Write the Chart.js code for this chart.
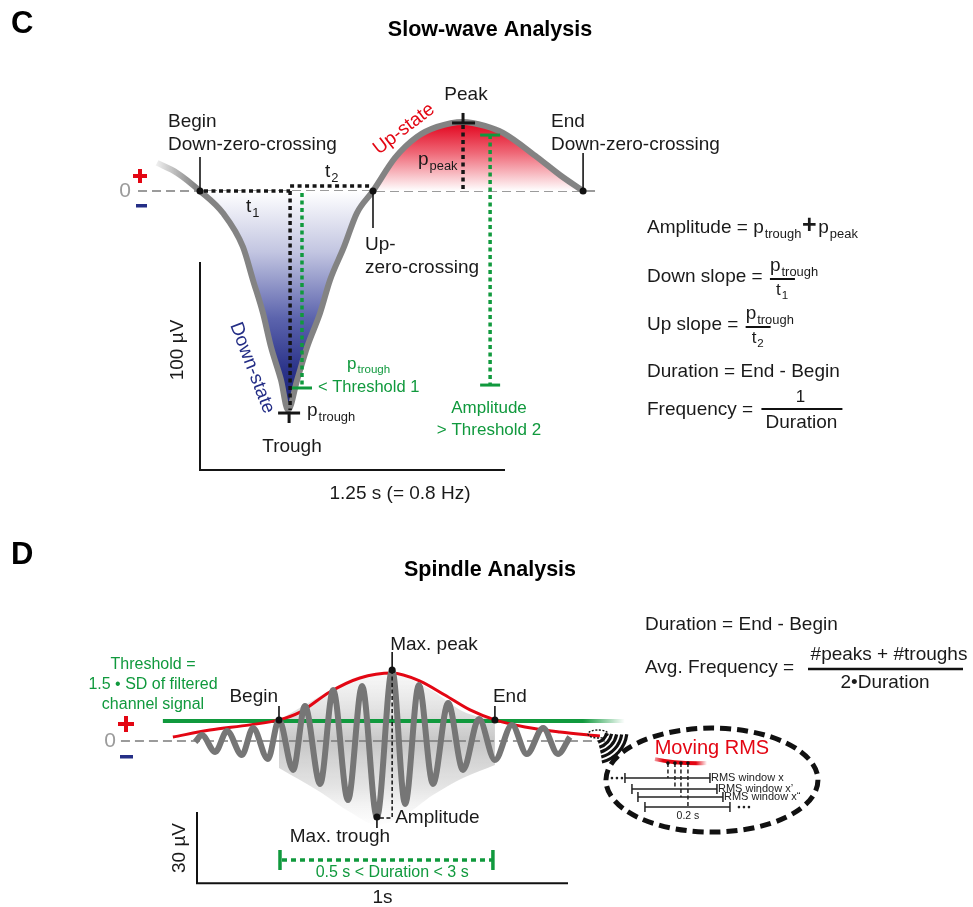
<!DOCTYPE html>
<html>
<head>
<meta charset="utf-8">
<script src="https://cdn.jsdelivr.net/npm/chart.js@4.4.0/dist/chart.umd.min.js"></script>
<style>
  body { margin: 0; background: #fff; }
  canvas { display: block; }
</style>
</head>
<body>
<canvas id="slowWave" width="973" height="520"></canvas>
<canvas id="spindle" width="973" height="387"></canvas>
<script>
// ---- slow wave (time in s from Begin, voltage in µV) ----
const swTime = [-0.176, -0.094, 0, 0.094, 0.176, 0.217, 0.258, 0.291, 0.332, 0.361, 0.398, 0.439, 0.492,
  0.533, 0.590, 0.643, 0.709, 0.799, 0.889, 0.971, 1.078, 1.168, 1.242, 1.381, 1.475, 1.570];
const swVolt = [13.5, 8.7, 0, -10.6, -26.9, -42.8, -58.7, -75.0, -90.9, -105.3, -90.9, -75.0, -58.7,
  -42.8, -26.9, -10.6, 0, 15.9, 26.0, 30.8, 33.2, 31.3, 27.9, 16.3, 7.7, 0];
// indices of the marked events in the slow wave
const swBegin = 2, swTrough = 9, swUp = 16, swPeak = 20, swEnd = 25;
const swThreshold1 = -94.7;            // p_trough criterion
const swAmplitude = [26.9, -93.3];     // amplitude criterion bar (top, bottom)

// ---- spindle (time in s from scale-bar origin, µV) ----
const spTime = [-0.005, 0.013, 0.049, 0.081, 0.121, 0.151, 0.191, 0.221, 0.259, 0.291, 0.332, 0.367, 0.407, 0.445,
  0.485, 0.526, 0.561, 0.598, 0.636, 0.677, 0.717, 0.760, 0.803, 0.849, 0.889, 0.933, 0.973, 1.005];
const spVolt = [-0.4, 2.5, -4.6, 4.2, -5.9, 5.5, -7.6, 8.9, -12.2, 14.8, -18.1, 21.5, -24.9, 23.2,
  -32.1, 30.0, -26.6, 23.6, -18.1, 16.0, -12.2, 9.3, -8.0, 6.8, -5.5, 5.5, -5.5, 1.7];
const spMaxTrough = 14, spMaxPeak = 15;
// RMS envelope
const envTime = [-0.065, 0.035, 0.143, 0.221, 0.278, 0.358, 0.439, 0.526, 0.601, 0.668, 0.736, 0.803, 0.884, 0.978, 1.086];
const envVolt = [1.7, 4.6, 6.8, 8.9, 12.2, 20.7, 26.6, 28.7, 25.3, 19.4, 13.1, 8.9, 5.9, 3.8, 2.1];
const envBegin = 3, envEnd = 11;
const spThreshold = 8.4;
const thrTime = [-0.092, 1.153];
// shaded spindle body between Begin and End
const shadeTime = [0.221, 0.332, 0.412, 0.485, 0.561, 0.636, 0.717, 0.803];
const shadeTop = [8.9, 19.0, 26.0, 28.7, 27.0, 21.0, 12.5, 8.9];
const shadeLow = [-11.4, -21.5, -30.0, -35.4, -31.2, -22.8, -15.6, -10.1];

const FONT = '"Liberation Sans", Arial, Helvetica, sans-serif';
const GREEN = '#10993d', RED = '#e30613', NAVY = '#242e86';

function pts(xs, ys) { return xs.map((x, i) => ({ x: x, y: ys[i] })); }
function txt(ctx, s, x, y, size, color, align, weight) {
  ctx.font = (weight || '') + ' ' + size + 'px ' + FONT;
  ctx.fillStyle = color;
  ctx.textAlign = align || 'left';
  ctx.textBaseline = 'middle';
  ctx.fillText(s, x, y);
  return ctx.measureText(s).width;
}
function subTxt(ctx, base, sub, x, y, size, color, align) {
  ctx.font = size + 'px ' + FONT;
  const w1 = ctx.measureText(base).width;
  ctx.font = (size * 0.68) + 'px ' + FONT;
  const w2 = ctx.measureText(sub).width;
  const x0 = align === 'center' ? x - (w1 + w2) / 2 : x;
  txt(ctx, base, x0, y, size, color);
  txt(ctx, sub, x0 + w1 + 1, y + size * 0.32, size * 0.68, color);
  return w1 + w2 + 1;
}
function seg(ctx, x1, y1, x2, y2) { ctx.beginPath(); ctx.moveTo(x1, y1); ctx.lineTo(x2, y2); ctx.stroke(); }
function dot(ctx, x, y, r, c) { ctx.beginPath(); ctx.arc(x, y, r, 0, Math.PI * 2); ctx.fillStyle = c; ctx.fill(); }
function plus(ctx, x, y, s, c) { ctx.fillStyle = c; ctx.fillRect(x - s / 2, y - 2, s, 4); ctx.fillRect(x - 2, y - s / 2, 4, s); }

function baseOptions(xmin, xmax, ymin, ymax) {
  return {
    responsive: false, animation: false, devicePixelRatio: 1, events: [],
    layout: { padding: 0 },
    plugins: { legend: { display: false }, tooltip: { enabled: false } },
    elements: { point: { radius: 0 }, line: { cubicInterpolationMode: 'monotone' } },
    scales: {
      x: { type: 'linear', min: xmin, max: xmax, display: false },
      y: { type: 'linear', min: ymin, max: ymax, display: false }
    }
  };
}

// ================= Slow-wave panel =================
const swDecor = {
  id: 'swDecor',
  beforeDatasetsDraw(chart) {
    const { ctx, scales: { x, y } } = chart;
    ctx.save();
    ctx.strokeStyle = '#9b9b9b'; ctx.lineWidth = 2; ctx.setLineDash([9, 5]);
    seg(ctx, x.getPixelForValue(-0.254), y.getPixelForValue(0), x.getPixelForValue(1.627), y.getPixelForValue(0));
    ctx.restore();
  },
  afterDatasetsDraw(chart) {
    const { ctx, scales: { x, y } } = chart;
    const X = v => x.getPixelForValue(v), Y = v => y.getPixelForValue(v);
    const y0 = Y(0);
    const bx = X(swTime[swBegin]), ux = X(swTime[swUp]), ex = X(swTime[swEnd]);
    const tx = X(swTime[swTrough]), ty = Y(swVolt[swTrough]);
    const px = X(swTime[swPeak]), py = Y(swVolt[swPeak]);
    ctx.save();
    // t1 / t2 / p_peak dotted lines
    ctx.strokeStyle = '#151515'; ctx.lineWidth = 3.5; ctx.setLineDash([4, 3.5]);
    seg(ctx, bx + 4, y0, tx + 2, y0);
    seg(ctx, tx + 2, y0, tx + 2, ty);
    seg(ctx, tx + 2, y0 - 5, ux - 3, y0 - 5);
    seg(ctx, px, py + 3, px, y0);
    // criteria (green)
    ctx.strokeStyle = GREEN;
    const g1 = X(0.418), g2 = X(1.189);
    seg(ctx, g1, y0 + 2, g1, Y(swThreshold1));
    seg(ctx, g2, Y(swAmplitude[0]), g2, Y(swAmplitude[1]));
    ctx.setLineDash([]); ctx.lineWidth = 3;
    seg(ctx, g1 - 10, Y(swThreshold1), g1 + 10, Y(swThreshold1));
    seg(ctx, g2 - 10, Y(swAmplitude[0]), g2 + 10, Y(swAmplitude[0]));
    seg(ctx, g2 - 10, Y(swAmplitude[1]), g2 + 10, Y(swAmplitude[1]));
    // peak / trough ticks
    ctx.strokeStyle = '#151515';
    seg(ctx, px - 11, py + 1, px + 12, py + 1); seg(ctx, px, py - 9, px, py + 1);
    seg(ctx, tx - 10, ty + 3, tx + 12, ty + 3); seg(ctx, tx + 1, ty + 3, tx + 1, ty + 13);
    // leaders
    ctx.lineWidth = 1.6;
    seg(ctx, bx, y0, bx, y0 - 34);
    seg(ctx, ux, y0, ux, y0 + 37);
    seg(ctx, ex, y0, ex, y0 - 38);
    dot(ctx, bx, y0, 3.5, '#111'); dot(ctx, ux, y0, 3.5, '#111'); dot(ctx, ex, y0, 3.5, '#111');
    // scale bars: 100 µV and 1.25 s
    ctx.lineWidth = 2;
    seg(ctx, X(0), Y(-34.1), X(0), Y(-134.1));
    seg(ctx, X(0) - 1, Y(-134.1), X(1.25), Y(-134.1));

    // sign markers
    txt(ctx, '0', 125, y0, 21, '#9b9b9b', 'center');
    plus(ctx, 140, y0 - 15, 14, RED);
    ctx.fillStyle = NAVY; ctx.fillRect(136, y0 + 13, 11, 3.5);

    const K = '#1a1a1a';
    txt(ctx, 'C', 11, 24, 31, '#000', 'left', 'bold');
    txt(ctx, 'Slow-wave Analysis', 490, 30, 21.5, '#000', 'center', 'bold');
    txt(ctx, 'Begin', 168, 122, 19, K);
    txt(ctx, 'Down-zero-crossing', 168, 145, 19, K);
    txt(ctx, 'Peak', 466, 95, 19, K, 'center');
    txt(ctx, 'End', 551, 122, 19, K);
    txt(ctx, 'Down-zero-crossing', 551, 145, 19, K);
    subTxt(ctx, 't', '2', 325, 172, 19, K);
    subTxt(ctx, 't', '1', 246, 207, 19, K);
    subTxt(ctx, 'p', 'peak', 418, 160, 19, K);
    txt(ctx, 'Up-', 365, 245, 19, K);
    txt(ctx, 'zero-crossing', 365, 268, 19, K);
    subTxt(ctx, 'p', 'trough', 347, 364, 17, GREEN);
    txt(ctx, '< Threshold 1', 318, 387, 16.5, GREEN);
    subTxt(ctx, 'p', 'trough', 307, 411, 19, K);
    txt(ctx, 'Trough', 292, 447, 19, K, 'center');
    txt(ctx, 'Amplitude', 489, 408, 17, GREEN, 'center');
    txt(ctx, '> Threshold 2', 489, 430, 17, GREEN, 'center');
    txt(ctx, '1.25 s (= 0.8 Hz)', 400, 494, 19, K, 'center');

    ctx.save(); ctx.translate(178, 350); ctx.rotate(-Math.PI / 2);
    txt(ctx, '100 µV', 0, 0, 19, K, 'center'); ctx.restore();
    ctx.save(); ctx.translate(404, 129); ctx.rotate(-37.5 * Math.PI / 180);
    txt(ctx, 'Up-state', 0, 0, 19, RED, 'center'); ctx.restore();
    ctx.save(); ctx.translate(252, 368); ctx.rotate(69 * Math.PI / 180);
    txt(ctx, 'Down-state', 0, 0, 19, NAVY, 'center'); ctx.restore();

    // formulas
    const fx = 647;
    ctx.strokeStyle = '#111';
    let w = txt(ctx, 'Amplitude = ', fx, 228, 19, K);
    w += subTxt(ctx, 'p', 'trough', fx + w, 228, 19, K);
    txt(ctx, '+', fx + w + 8, 226, 25, K, 'center', 'bold');
    subTxt(ctx, 'p', 'peak', fx + w + 17, 228, 19, K);

    w = txt(ctx, 'Down slope = ', fx, 277, 19, K);
    subTxt(ctx, 'p', 'trough', fx + w + 2, 266, 19, K);
    ctx.lineWidth = 2; seg(ctx, fx + w + 2, 279, fx + w + 27, 279);
    subTxt(ctx, 't', '1', fx + w + 8, 290, 17, K);

    w = txt(ctx, 'Up slope = ', fx, 325, 19, K);
    subTxt(ctx, 'p', 'trough', fx + w + 2, 314, 19, K);
    seg(ctx, fx + w + 2, 327, fx + w + 27, 327);
    subTxt(ctx, 't', '2', fx + w + 8, 338, 17, K);

    txt(ctx, 'Duration = End - Begin', fx, 372, 19, K);
    w = txt(ctx, 'Frequency = ', fx, 410, 19, K);
    txt(ctx, '1', fx + w + 42, 397, 17, K, 'center');
    seg(ctx, fx + w + 3, 409, fx + w + 84, 409);
    txt(ctx, 'Duration', fx + w + 43, 423, 19, K, 'center');
    ctx.restore();
  }
};

const swCanvas = document.getElementById('slowWave');
new Chart(swCanvas, {
  type: 'line',
  data: {
    datasets: [
      {
        data: pts(swTime, swVolt), borderWidth: 6, fill: false, order: 1,
        borderColor: ctx => {
          const c = ctx.chart, sx = c.scales.x;
          if (!c.chartArea) return '#838383';
          const g = c.ctx.createLinearGradient(sx.getPixelForValue(-0.18), 0, sx.getPixelForValue(-0.02), 0);
          g.addColorStop(0, 'rgba(131,131,131,0.12)'); g.addColorStop(1, '#838383');
          return g;
        }
      },
      {
        data: pts(swTime.slice(swBegin, swUp + 1), swVolt.slice(swBegin, swUp + 1)),
        borderWidth: 0, fill: 'origin', order: 2,
        backgroundColor: ctx => {
          const c = ctx.chart, sy = c.scales.y;
          if (!c.chartArea) return '#445';
          const g = c.ctx.createLinearGradient(0, sy.getPixelForValue(0), 0, sy.getPixelForValue(swVolt[swTrough]));
          g.addColorStop(0, '#ffffff'); g.addColorStop(0.28, '#c2c5e1');
          g.addColorStop(0.58, '#5c64ad'); g.addColorStop(0.82, '#2b3389'); g.addColorStop(1, '#1a2276');
          return g;
        }
      },
      {
        data: pts(swTime.slice(swUp, swEnd + 1), swVolt.slice(swUp, swEnd + 1)),
        borderWidth: 0, fill: 'origin', order: 3,
        backgroundColor: ctx => {
          const c = ctx.chart, sy = c.scales.y;
          if (!c.chartArea) return '#e66';
          const g = c.ctx.createLinearGradient(0, sy.getPixelForValue(swVolt[swPeak]), 0, sy.getPixelForValue(0));
          g.addColorStop(0, '#e2001a'); g.addColorStop(0.45, '#ef6877'); g.addColorStop(1, '#ffffff');
          return g;
        }
      }
    ]
  },
  options: baseOptions(-200 / 244, 773 / 244, -329 / 2.08, 191 / 2.08),
  plugins: [swDecor]
});

// ================= Spindle panel =================
const spDecor = {
  id: 'spDecor',
  beforeDatasetsDraw(chart) {
    const { ctx, scales: { x, y } } = chart;
    ctx.save();
    ctx.strokeStyle = '#9b9b9b'; ctx.lineWidth = 2; ctx.setLineDash([9, 5]);
    seg(ctx, x.getPixelForValue(-0.205), y.getPixelForValue(0), x.getPixelForValue(1.1), y.getPixelForValue(0));
    ctx.restore();
  },
  afterDatasetsDraw(chart) {
    const { ctx, scales: { x, y } } = chart;
    const X = v => x.getPixelForValue(v), Y = v => y.getPixelForValue(v);
    const K = '#1a1a1a';
    const y0 = Y(0);
    ctx.save();
    // Begin / End
    const bx = X(envTime[envBegin]), by = Y(envVolt[envBegin]);
    const ex = X(envTime[envEnd]), ey = Y(envVolt[envEnd]);
    ctx.strokeStyle = '#111'; ctx.lineWidth = 1.6;
    seg(ctx, bx, by, bx, by - 14); seg(ctx, ex, ey, ex, ey - 14);
    dot(ctx, bx, by, 3.5, '#111'); dot(ctx, ex, ey, 3.5, '#111');
    txt(ctx, 'Begin', bx - 1, 177, 19, K, 'right');
    txt(ctx, 'End', ex - 2, 177, 19, K);
    // max peak / trough / amplitude
    const mpx = X(spTime[spMaxPeak]), mpy = Y(spVolt[spMaxPeak]);
    const mtx = X(spTime[spMaxTrough]), mty = Y(spVolt[spMaxTrough]);
    seg(ctx, mpx, mpy, mpx, mpy - 18);
    seg(ctx, mtx, mty, mtx, mty + 11);
    ctx.lineWidth = 1.5; ctx.setLineDash([4, 2.5]);
    seg(ctx, mpx, mpy, mpx, mty + 1);
    seg(ctx, mtx + 3, mty + 1, mpx, mty + 1);
    ctx.setLineDash([]);
    dot(ctx, mpx, mpy, 3.5, '#111'); dot(ctx, mtx, mty, 3.5, '#111');
    txt(ctx, 'Max. peak', mpx - 2, 125, 19, K);
    txt(ctx, 'Amplitude', mpx + 3, 298, 19, K);
    txt(ctx, 'Max. trough', mtx - 37, 317, 19, K, 'center');

    // scale bars 30 µV / 1 s
    ctx.strokeStyle = '#111'; ctx.lineWidth = 2;
    seg(ctx, X(0), Y(-30), X(0), Y(-60));
    seg(ctx, X(0) - 1, Y(-60), X(1), Y(-60));
    ctx.save(); ctx.translate(180, 328); ctx.rotate(-Math.PI / 2);
    txt(ctx, '30 µV', 0, 0, 19, K, 'center'); ctx.restore();
    txt(ctx, '1s', X(0.5), 378, 19, K, 'center');

    // duration criterion
    const dy = Y(-50.2);
    ctx.strokeStyle = GREEN; ctx.lineWidth = 3.5; ctx.setLineDash([5, 4]);
    seg(ctx, bx + 3, dy, ex - 3, dy);
    ctx.setLineDash([]);
    seg(ctx, bx + 1, dy - 10, bx + 1, dy + 10); seg(ctx, ex - 2, dy - 10, ex - 2, dy + 10);
    txt(ctx, '0.5 s < Duration < 3 s', X(0.526), 353, 16, GREEN, 'center');

    // sign markers and threshold text
    txt(ctx, '0', 110, y0, 21, '#9b9b9b', 'center');
    plus(ctx, 126, y0 - 17, 16, RED);
    ctx.fillStyle = NAVY; ctx.fillRect(120, y0 + 14, 13, 3.5);
    txt(ctx, 'Threshold =', 153, 145, 16, GREEN, 'center');
    txt(ctx, '1.5 \u2022 SD of filtered', 153, 165, 16, GREEN, 'center');
    txt(ctx, 'channel signal', 153, 185, 16, GREEN, 'center');

    txt(ctx, 'D', 11, 35, 31, '#000', 'left', 'bold');
    txt(ctx, 'Spindle Analysis', 490, 50, 21.5, '#000', 'center', 'bold');

    // formulas
    const fx = 645;
    txt(ctx, 'Duration = End - Begin', fx, 105, 19, K);
    txt(ctx, 'Avg. Frequency = ', fx, 148, 19, K);
    txt(ctx, '#peaks + #troughs', 889, 135, 19, K, 'center');
    ctx.strokeStyle = '#111'; ctx.lineWidth = 2.5; seg(ctx, 808, 149, 963, 149);
    txt(ctx, '2\u2022Duration', 885, 163, 19, K, 'center');

    // zoomed RMS inset
    const sx0 = X(1.081), sy0 = Y(2.95);
    ctx.lineWidth = 1.4; ctx.setLineDash([2, 1.5]); ctx.strokeStyle = '#111';
    ctx.beginPath(); ctx.ellipse(sx0, sy0, 10, 4, 0, 0, Math.PI * 2); ctx.stroke();
    ctx.setLineDash([]); ctx.lineWidth = 3.2;
    [13, 18, 23, 28, 33].forEach((r, i) => {
      ctx.beginPath(); ctx.arc(sx0 - 4, sy0 - 4, r, 0.25 - i * 0.03, 1.25 + i * 0.02); ctx.stroke();
    });
    const cx = X(1.388), cy = Y(-16.5);
    ctx.lineWidth = 5; ctx.setLineDash([11, 6]);
    ctx.beginPath(); ctx.ellipse(cx, cy, 106, 52, 0, 0, Math.PI * 2); ctx.stroke();
    ctx.setLineDash([]);
    txt(ctx, 'Moving RMS', cx, cy - 32, 20, RED, 'center');
    const rg = ctx.createLinearGradient(cx - 60, 0, cx - 5, 0);
    rg.addColorStop(0, 'rgba(227,6,19,0.2)'); rg.addColorStop(0.2, RED); rg.addColorStop(0.8, RED); rg.addColorStop(1, 'rgba(227,6,19,0)');
    ctx.strokeStyle = rg; ctx.lineWidth = 4;
    ctx.beginPath(); ctx.moveTo(cx - 57, cy - 21); ctx.quadraticCurveTo(cx - 35, cy - 16, cx - 5, cy - 17); ctx.stroke();
    ctx.strokeStyle = '#222'; ctx.lineWidth = 1.5;
    const wins = [[-87, -2, -2, 'RMS window x'], [-80, 5, 9, 'RMS window x\u2019'],
      [-74, 11, 17, 'RMS window x\u201C'], [-67, 18, 27, '']];
    const taps = [-44, -37, -31, -24];
    wins.forEach((wn, i) => {
      const [a, b, yy, lab] = wn;
      ctx.setLineDash([]);
      seg(ctx, cx + a, cy + yy, cx + b, cy + yy);
      seg(ctx, cx + a, cy + yy - 5, cx + a, cy + yy + 5);
      seg(ctx, cx + b, cy + yy - 5, cx + b, cy + yy + 5);
      if (lab) txt(ctx, lab, cx + b + 1, cy + yy, 11, '#222');
      ctx.setLineDash([4, 2.5]);
      seg(ctx, cx + taps[i], cy - 17, cx + taps[i], cy + yy);
      dot(ctx, cx + taps[i], cy - 17, 1.8, '#111');
    });
    ctx.setLineDash([]);
    txt(ctx, '0.2 s', cx - 24, cy + 36, 10.5, '#222', 'center');
    [0, 5, 10].forEach(d => { dot(ctx, cx - 100 + d, cy - 2, 1.3, '#222'); dot(ctx, cx + 27 + d, cy + 27, 1.3, '#222'); });
    ctx.restore();
  }
};

const spCanvas = document.getElementById('spindle');
new Chart(spCanvas, {
  type: 'line',
  data: {
    datasets: [
      { data: pts(spTime, spVolt), borderColor: '#767676', borderWidth: 6, fill: false, order: 1 },
      { data: pts(envTime, envVolt), borderColor: RED, borderWidth: 3, fill: false, order: 2 },
      {
        data: pts(thrTime, [spThreshold, spThreshold]), borderWidth: 4, fill: false, order: 3,
        borderColor: ctx => {
          const c = ctx.chart, sx = c.scales.x;
          if (!c.chartArea) return GREEN;
          const g = c.ctx.createLinearGradient(sx.getPixelForValue(1.04), 0, sx.getPixelForValue(1.153), 0);
          g.addColorStop(0, GREEN); g.addColorStop(1, 'rgba(16,153,61,0)');
          return g;
        }
      },
      { data: pts(shadeTime, shadeTop), borderWidth: 0, fill: false, order: 4 },
      {
        data: pts(shadeTime, shadeLow), borderWidth: 0, fill: '-1', order: 5,
        backgroundColor: ctx => {
          const c = ctx.chart, sy = c.scales.y;
          if (!c.chartArea) return 'rgba(0,0,0,0.1)';
          const g = c.ctx.createLinearGradient(0, sy.getPixelForValue(29), 0, sy.getPixelForValue(-36));
          g.addColorStop(0, 'rgba(170,170,170,0.08)'); g.addColorStop(0.45, 'rgba(120,120,120,0.42)');
          g.addColorStop(0.75, 'rgba(150,150,150,0.25)'); g.addColorStop(1, 'rgba(200,200,200,0.02)');
          return g;
        }
      }
    ]
  },
  options: baseOptions(-197 / 371, 776 / 371, -166 / 2.37, 221 / 2.37),
  plugins: [spDecor]
});
</script>
</body>
</html>
